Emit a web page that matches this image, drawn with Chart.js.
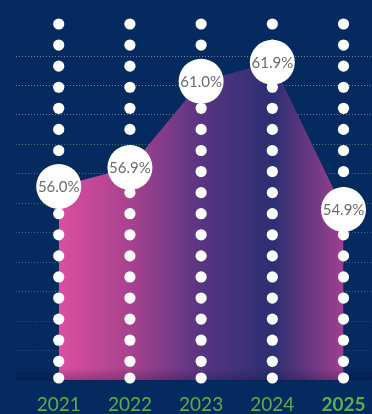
<!DOCTYPE html>
<html>
<head>
<meta charset="utf-8">
<script src="https://cdn.jsdelivr.net/npm/chart.js@4.4.0/dist/chart.umd.min.js"></script>
<style>
  html, body { margin: 0; padding: 0; background: #042a60; }
  #wrap { width: 372px; height: 414px; position: relative; }
</style>
</head>
<body>
<div id="wrap"><canvas id="chart"></canvas></div>
<script>
const years = [2021, 2022, 2023, 2024, 2025];
const rates = [56.0, 56.9, 61.0, 61.9, 54.9];
const highlightYear = 2025;

// dotted guide colours, top line first
const gridColors = [
  '#76839f', '#76839f', '#6e7c99',
  '#2f8250', '#2f8250', '#2c7f57',
  '#2070b0', '#2070b0', '#2070b0',
  '#3b4194', '#3b3b8c', 'rgba(8,12,40,0.5)'
];

function areaGradient(chart) {
  const { ctx, chartArea, scales } = chart;
  if (!chartArea) return null;
  const x0 = scales.x.getPixelForValue(years[0]);
  const x1 = chartArea.right;
  const pos = yr => (scales.x.getPixelForValue(yr) - x0) / (x1 - x0);
  const g = ctx.createLinearGradient(x0, 0, x1, 0);
  g.addColorStop(0, '#da4f9e');
  g.addColorStop(pos(2022), '#a8428f');
  g.addColorStop(pos(2023), '#583582');
  g.addColorStop(pos(2024), '#2c2f73');
  g.addColorStop(Math.min(1, pos(2025)), '#a0408f');
  g.addColorStop(1, '#d64b9b');
  return g;
}

const decorations = {
  id: 'decorations',
  afterDatasetsDraw(chart) {
    // soft shadow along the baseline
    const { ctx, chartArea } = chart;
    const g = ctx.createLinearGradient(0, chartArea.bottom - 12, 0, chartArea.bottom);
    g.addColorStop(0, 'rgba(10,8,40,0)');
    g.addColorStop(1, 'rgba(10,8,40,0.25)');
    ctx.save();
    ctx.fillStyle = g;
    ctx.fillRect(chartArea.left, chartArea.bottom - 12, chartArea.right - chartArea.left, 12);
    ctx.restore();
  },
  afterDraw(chart) {
    const { ctx, chartArea, scales } = chart;
    const dot = (x, y, r) => { ctx.beginPath(); ctx.arc(x, y, r, 0, Math.PI * 2); ctx.fill(); };
    ctx.save();
    ctx.fillStyle = '#ffffff';

    // white dotted columns
    const top = chartArea.top - 32, gap = 21.08, bottom = chartArea.bottom - 2;
    years.forEach(yr => {
      const px = scales.x.getPixelForValue(yr);
      for (let py = top; py < bottom - 12; py += gap) dot(px, py, 5.6);
      dot(px, bottom, 5.6);
    });

    // value bubbles
    const meta = chart.getDatasetMeta(0);
    ctx.font = '15px Lato';
    ctx.textAlign = 'center';
    ctx.textBaseline = 'middle';
    meta.data.forEach((pt, i) => {
      ctx.fillStyle = '#ffffff';
      dot(pt.x, pt.y, 22.5);
      ctx.fillStyle = '#6b6b6b';
      ctx.fillText(rates[i].toFixed(1) + '%', pt.x, pt.y + 1);
    });
    ctx.restore();
  }
};

new Chart(document.getElementById('chart'), {
  type: 'line',
  data: {
    datasets: [{
      data: years.map((yr, i) => ({ x: yr, y: rates[i] })),
      fill: 'start',
      backgroundColor: ctx => areaGradient(ctx.chart),
      borderWidth: 0,
      pointRadius: 0,
      tension: 0
    }]
  },
  options: {
    responsive: true,
    maintainAspectRatio: false,
    animation: false,
    layout: { padding: { top: 56, left: 16, right: 0, bottom: 0 } },
    plugins: { legend: { display: false }, tooltip: { enabled: false } },
    scales: {
      x: {
        type: 'linear',
        min: 2020.4,
        max: 2025.4,
        afterBuildTicks: scale => { scale.ticks = years.map(v => ({ value: v })); },
        afterFit: scale => {
          scale.height = 34;
          scale.paddingLeft = 0;
          scale.paddingRight = 0;
        },
        grid: { display: false, drawTicks: false },
        border: { display: false },
        ticks: {
          padding: 13,
          color: '#5ab04a',
          font: c => ({
            family: 'Lato',
            size: 19,
            weight: c.tick && c.tick.value === highlightYear ? 'bold' : 'normal'
          }),
          callback: v => String(v)
        }
      },
      y: {
        min: 46.8,
        max: 62.2,
        z: 1,
        grid: {
          drawTicks: false,
          lineWidth: 1,
          color: c => gridColors[gridColors.length - 1 - c.index]
        },
        border: { display: false, dash: [1, 2] },
        ticks: { display: false, count: 12 }
      }
    }
  },
  plugins: [decorations]
});
</script>
</body>
</html>
